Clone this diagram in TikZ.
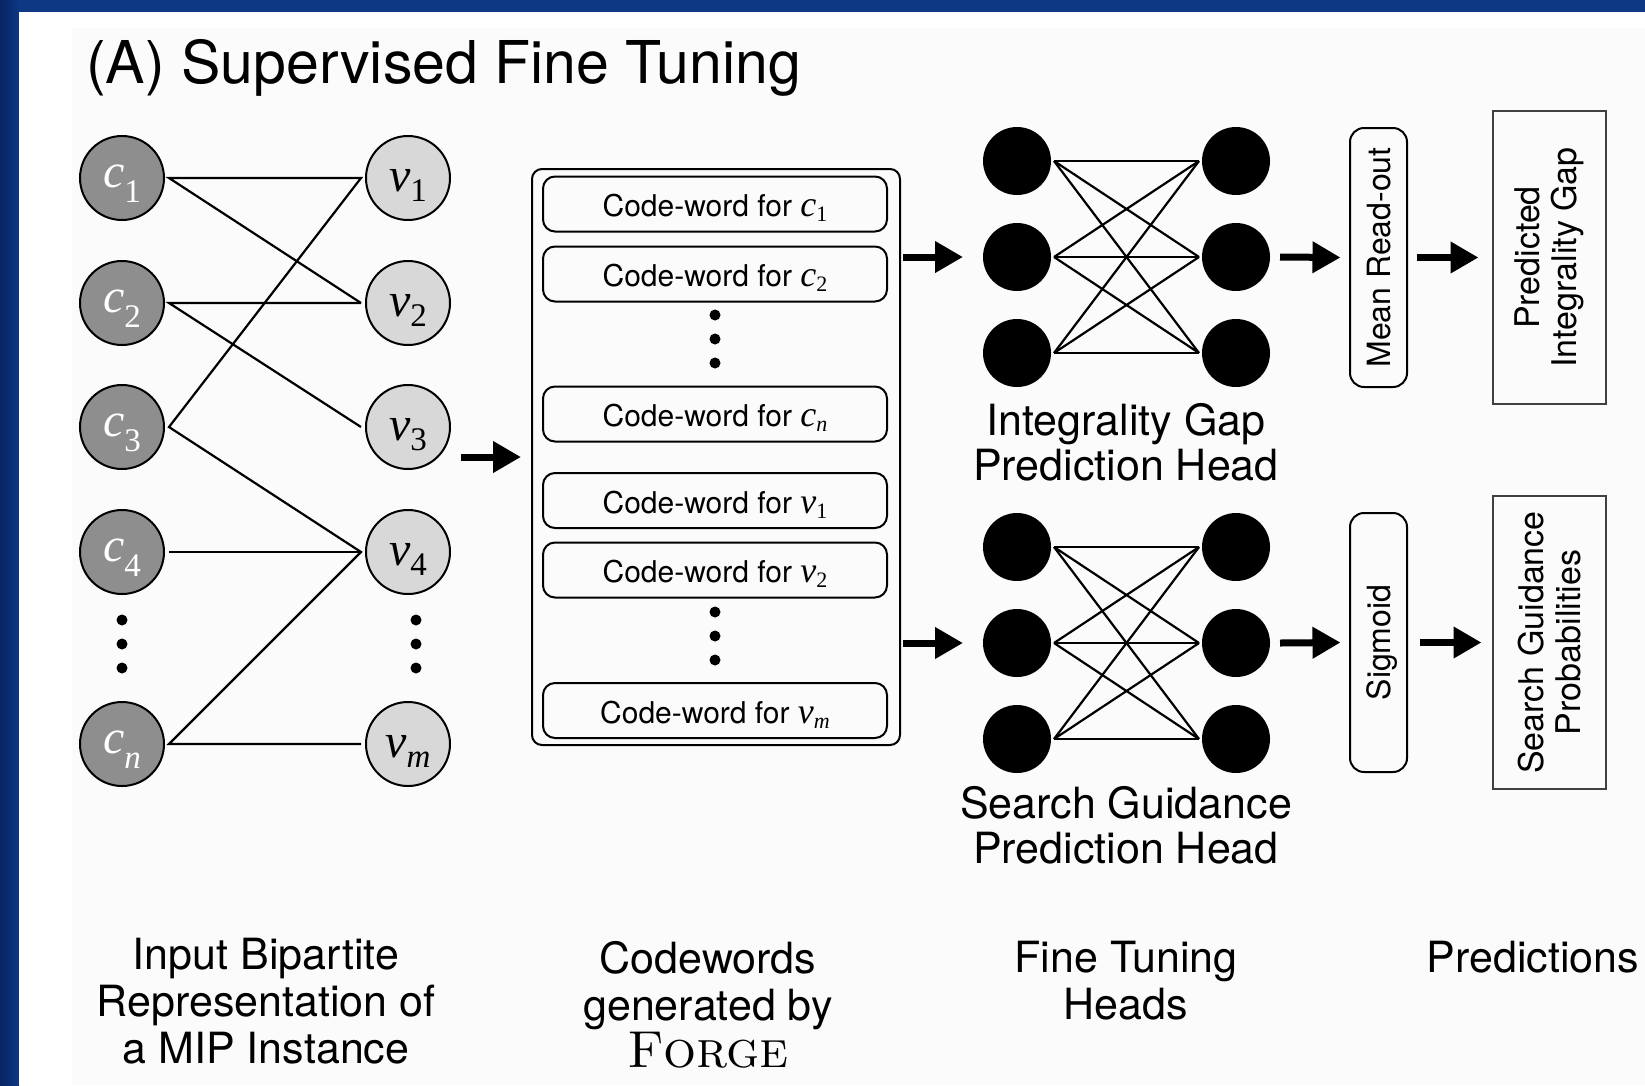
\documentclass[tikz,border=0pt]{standalone}
\usepackage{fontspec}
\setsansfont{TeX Gyre Heros}
\renewcommand{\familydefault}{\sfdefault}
\newfontfamily\tms{Liberation Serif}
\usetikzlibrary{arrows.meta}

\definecolor{frameblue}{RGB}{12,56,132}
\definecolor{framedark}{RGB}{9,36,98}
\definecolor{cfill}{RGB}{142,142,142}
\definecolor{vfill}{RGB}{216,216,216}
\definecolor{paper}{RGB}{251,251,251}

\newcommand\fs[1]{\fontsize{#1}{#1}\selectfont}
% variable labels inside the bipartite graph circles
\newcommand\clab[2]{{\tms\fs{48}\itshape #1}\raisebox{-15pt}{\tms\fs{33}#2}}
\newcommand\vlab[2]{{\tms\fs{48}\itshape #1}\raisebox{-10pt}{\tms\fs{33}#2}}
% variable labels inside the code-word boxes
\newcommand\cwlab[2]{{\tms\fs{36}\itshape #1}\raisebox{-5pt}{\tms\fs{22}#2}}

\tikzset{
  cnode/.style={circle, draw=black, line width=2pt, fill=cfill, minimum size=84pt,
    inner sep=0pt, outer sep=5pt, text=white, text height=18pt, text depth=0pt},
  vnode/.style={circle, draw=black, line width=2pt, fill=vfill, minimum size=84pt,
    inner sep=0pt, outer sep=5pt, text=black, text height=27pt, text depth=0pt},
  edge/.style={line width=2.2pt, line join=miter},
  dotnode/.style={circle, fill=black, minimum size=11pt, inner sep=0pt},
  cwframe/.style={draw, rounded corners=10pt, line width=2pt, minimum width=368pt,
    minimum height=576pt, inner sep=0pt},
  cwbox/.style={draw, rounded corners=12pt, line width=2pt, minimum width=344pt,
    minimum height=55pt, inner sep=0pt, font=\fs{30}, text height=25pt, text depth=0pt},
  neuron/.style={circle, fill=black, minimum size=68pt, inner sep=0pt, outer sep=3pt},
  wire/.style={line width=2.2pt},
  bigarrow/.style={line width=7pt, -{Triangle[length=28pt,width=30pt]}},
  opbox/.style={draw, rounded corners=14pt, line width=2pt, rotate=90,
    minimum width=259pt, minimum height=57pt, inner sep=0pt, font=\fs{32},
    text height=23pt, text depth=0pt},
  outbox/.style={draw=black!75, line width=1.5pt, rotate=90, align=center,
    minimum width=293pt, minimum height=113pt, inner sep=0pt,
    font=\fontsize{34}{37}\selectfont},
  % multi-line labels are placed by the baseline of their last line
  headlab/.style={align=center, anchor=base, font=\fontsize{43}{45}\selectfont},
  caplab/.style={align=center, anchor=base, font=\fontsize{43}{47}\selectfont},
}

\begin{document}
\begin{tikzpicture}[x=1pt, y=-1pt]
\useasboundingbox (0,0) rectangle (1645,1085);

% slide frame and page
\fill[frameblue] (0,0) rectangle (1645,1085);
\shade[left color=framedark, right color=frameblue] (0,0) rectangle (19,1085);
\fill[white] (19,12) rectangle (1645,1085);
\fill[paper] (72,28) rectangle (1645,1085);

% title
\node[anchor=base west, font=\fs{59}, inner sep=0pt] (title) at (86,83) {(A) Supervised Fine Tuning};

% ---------------- bipartite graph ----------------
\foreach \i/\yy/\s in {1/178/1, 2/303/2, 3/427/3, 4/552/4, n/744/{\itshape n}}
  \node[cnode] (c\i) at (122,\yy) {\clab{c}{\s}};
\foreach \i/\yy/\s in {1/178/1, 2/303/2, 3/427/3, 4/552/4, m/744/{\itshape m}}
  \node[vnode] (v\i) at (408,\yy) {\vlab{v}{\s}};

\node[dotnode] (cd1) at (122,620) {};
\node[dotnode] (cd2) at (122,644) {};
\node[dotnode] (cd3) at (122,668) {};
\node[dotnode] (vd1) at (416,620) {};
\node[dotnode] (vd2) at (416,644) {};
\node[dotnode] (vd3) at (416,668) {};

\draw[edge] (v2.west) -- (c1.east) -- (v1.west) -- (c3.east) -- (v4.west) -- (cn.east) -- (vm.west);
\draw[edge] (v3.west) -- (c2.east) -- (v2.west);
\draw[edge] (c4.east) -- (v4.west);

% ---------------- code-words ----------------
\node[cwframe] (cw) at (716,457) {};
\node[cwbox] (w1) at (715,204)   {Code-word for \cwlab{c}{1}};
\node[cwbox] (w2) at (715,274)   {Code-word for \cwlab{c}{2}};
\node[cwbox] (wn) at (715,414)   {Code-word for \cwlab{c}{\itshape n}};
\node[cwbox] (x1) at (715,500.5) {Code-word for \cwlab{v}{1}};
\node[cwbox] (x2) at (715,570)   {Code-word for \cwlab{v}{2}};
\node[cwbox] (xm) at (715,710.5) {Code-word for \cwlab{v}{\itshape m}};

\node[dotnode] (wd1) at (715,315) {};
\node[dotnode] (wd2) at (715,339) {};
\node[dotnode] (wd3) at (715,363) {};
\node[dotnode] (xd1) at (715,612) {};
\node[dotnode] (xd2) at (715,636) {};
\node[dotnode] (xd3) at (715,660) {};

\draw[bigarrow] ([xshift=-70pt]cw.west) -- ([xshift=-10pt]cw.west);

% ---------------- fine tuning heads ----------------
\foreach \r/\yy in {1/161, 2/257, 3/353} {
  \node[neuron] (ul\r) at (1017,\yy) {};
  \node[neuron] (ur\r) at (1236,\yy) {};
}
\foreach \r/\yy in {1/547, 2/643, 3/739} {
  \node[neuron] (ll\r) at (1017,\yy) {};
  \node[neuron] (lr\r) at (1236,\yy) {};
}
\foreach \a in {1,2,3} {
  \foreach \b in {1,2,3} {
    \draw[wire] (ul\a.east) -- (ur\b.west);
    \draw[wire] (ll\a.east) -- (lr\b.west);
  }
}

\node[headlab] (hup) at (1126,480) {Integrality Gap\\Prediction Head};
\node[headlab] (hlo) at (1126,863) {Search Guidance\\Prediction Head};

\draw[bigarrow] ([xshift=-114pt]ul2.center) -- ([xshift=-54pt]ul2.center);
\draw[bigarrow] ([xshift=-114pt]ll2.center) -- ([xshift=-54pt]ll2.center);

% ---------------- read-out and predictions ----------------
\node[opbox] (ro) at (1378.5,257.5) {Mean Read-out};
\node[opbox] (sg) at (1378.5,642.5) {Sigmoid};
\node[outbox] (pig) at (1549.5,257.5) {Predicted\\Integrality Gap};
\node[outbox] (sgp) at (1549.5,642.5) {Search Guidance\\Probabilities};

\draw[bigarrow] ([xshift=44pt]ur2.center) -- ([xshift=-38pt]ro.center);
\draw[bigarrow] ([xshift=38pt]ro.center) -- ([xshift=-71pt]pig.center);
\draw[bigarrow] ([xshift=44pt]lr2.center) -- ([xshift=-38pt]sg.center);
\draw[bigarrow] ([xshift=41pt]sg.center) -- ([xshift=-68pt]sgp.center);

% ---------------- column captions ----------------
\node[caplab] (cap1) at (266,1063) {Input Bipartite\\Representation of\\a MIP Instance};
\node[caplab] (cap2) at (708,1067) {Codewords\\generated by\\{\rmfamily\fontsize{52}{47}\selectfont\scshape Forge}};
\node[caplab] (cap3) at (1126,1019) {Fine Tuning\\Heads};
\node[caplab] (cap4) at (1533,972) {Predictions};
\end{tikzpicture}
\end{document}
